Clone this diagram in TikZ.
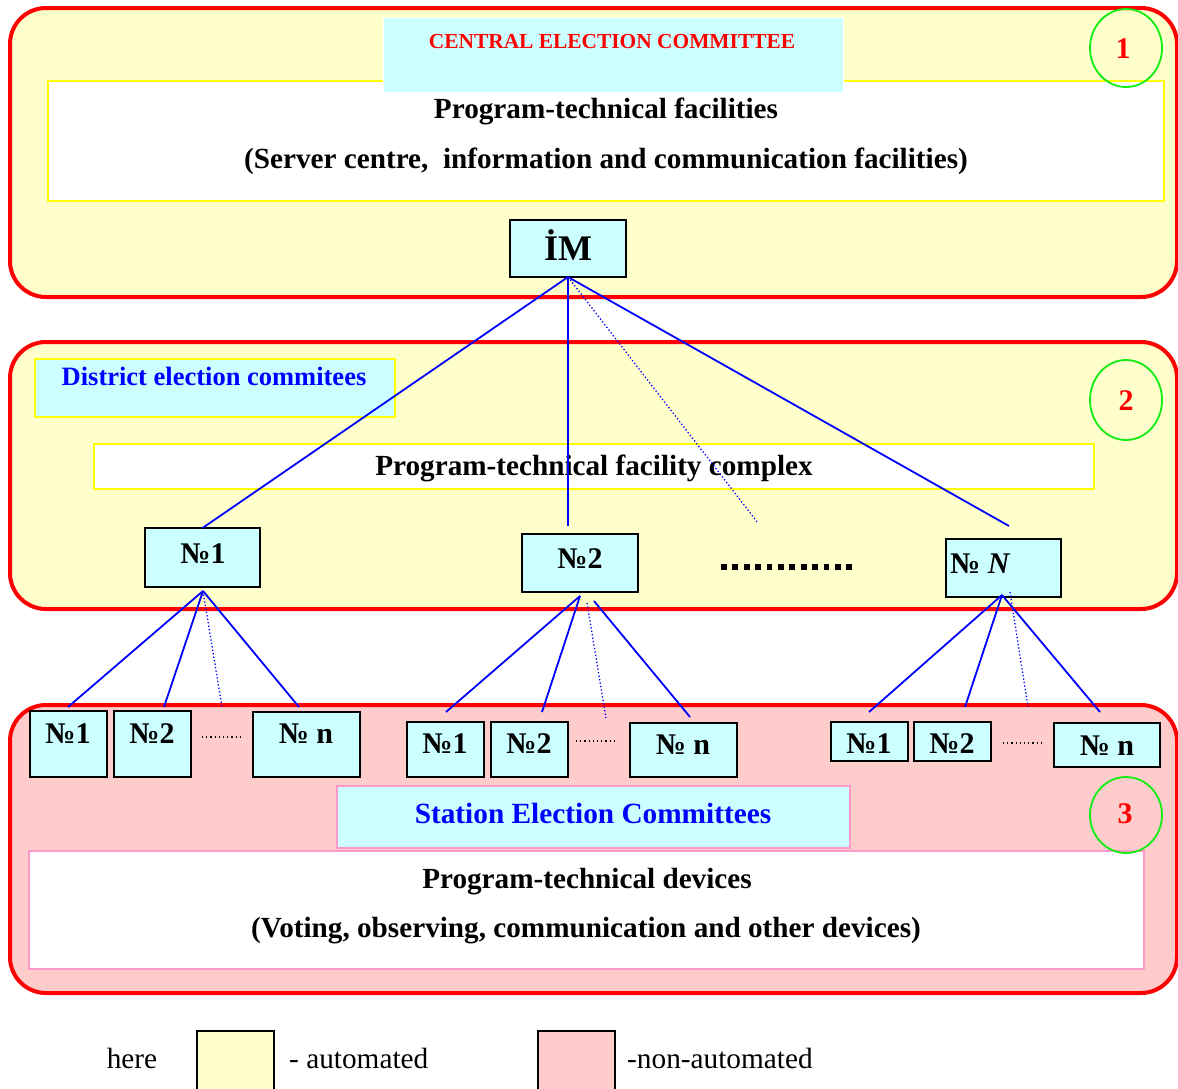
\documentclass[tikz,border=0pt]{standalone}
\usepackage{fontspec}
\setmainfont{Liberation Serif}
\usetikzlibrary{shapes.geometric}
\definecolor{lyellow}{HTML}{FFFFCC}
\definecolor{lcyan}{HTML}{CCFFFF}
\definecolor{lpink}{HTML}{FFCCCC}
\definecolor{pinkb}{HTML}{FF99CC}
\definecolor{ybord}{HTML}{FFFF00}
\definecolor{grn}{HTML}{11EE11}
\begin{document}
\begin{tikzpicture}[x=1pt,y=-1pt,
  tier/.style={draw=red,line width=4pt,rounded corners=36pt,inner sep=0pt,outer sep=0pt},
  box/.style={rectangle,inner sep=0pt,outer sep=0pt},
  numbox/.style={box,draw=black,line width=2pt,fill=lcyan},
  ring/.style={ellipse,draw=grn,line width=1.8pt,inner sep=0pt},
  lbl/.style={anchor=base,inner sep=0pt,font=\bfseries\fontsize{29.2}{32}\selectfont},
  numlbl/.style={anchor=base,inner sep=0pt,font=\bfseries\fontsize{30}{33}\selectfont},
  legtext/.style={inner sep=0pt,font=\fontsize{29.3}{32}\selectfont},
  conn/.style={draw=blue,line width=1.8pt},
  dconn/.style={draw=blue,line width=1.3pt,dash pattern=on 1.3pt off 2.2pt},
  smalldots/.style={line width=1.2pt,dash pattern=on 1.2pt off 3pt}]
\useasboundingbox (0,0) rectangle (1178,1088);

% tiers
\node[tier,fill=lyellow,minimum width=1167pt,minimum height=289pt] (t1) at (593.5,152.5) {};
\node[tier,fill=lyellow,minimum width=1167pt,minimum height=267pt] (t2) at (593.5,475.5) {};
\node[tier,fill=lpink,minimum width=1167pt,minimum height=288pt] (t3) at (593.5,849) {};

% tier 1
\node[box,draw=ybord,line width=2pt,fill=white,minimum width=1116pt,minimum height=120pt] (ptf) at (606,141) {};
\node[box,draw=white,line width=1pt,fill=lcyan,minimum width=460pt,minimum height=75pt] (cec) at (613,54.5) {};
\node[anchor=base,inner sep=0pt,text=red,font=\bfseries\fontsize{21.4}{24}\selectfont] (cect) at (612,48.3) {CENTRAL ELECTION COMMITTEE};
\node[lbl] (ptf1) at (606,118) {Program-technical facilities};
\node[lbl] (ptf2) at (606,168) {(Server centre,\ \ information and communication facilities)};
\node[ring,minimum width=72pt,minimum height=78pt] (c1) at (1126,48) {};
\node[numlbl,text=red] (c1t) at (1123,58) {1};
\node[numbox,minimum width=116pt,minimum height=57pt] (im) at (568,248.5) {};
\node[anchor=base,inner sep=0pt,font=\bfseries\fontsize{36}{40}\selectfont] (imt) at (568,260) {İM};

% tier 2
\node[box,draw=ybord,line width=2pt,fill=lcyan,minimum width=360pt,minimum height=58pt] (dec) at (215,388) {};
\node[anchor=base,inner sep=0pt,text=blue,font=\bfseries\fontsize{26.5}{29}\selectfont] (dect) at (214,385) {District election commitees};
\node[box,draw=ybord,line width=2pt,fill=white,minimum width=1000pt,minimum height=45pt] (ptc) at (594,466.5) {};
\node[lbl] (ptct) at (594,475.7) {Program-technical facility complex};
\node[ring,minimum width=72pt,minimum height=80pt] (c2) at (1126,400) {};
\node[numlbl,text=red] (c2t) at (1126,410) {2};
\node[numbox,minimum width=115pt,minimum height=59pt] (d1) at (202.5,557.5) {};
\node[numlbl] (d1t) at (203,563) {№1};
\node[numbox,minimum width=116pt,minimum height=58pt] (d2) at (580,563) {};
\node[numlbl] (d2t) at (580,568) {№2};
\node[numbox,minimum width=115pt,minimum height=58pt] (dN) at (1003.5,568) {};
\node[numlbl,anchor=base west] (dNt) at (950,573) {№ \textit{N}};
\coordinate (dotsA) at (721,567);
\coordinate (dotsB) at (855,567);
\draw[line width=6pt,dash pattern=on 5.7pt off 5.7pt] (dotsA) -- (dotsB);

% tier 3 station boxes
\node[numbox,minimum width=77pt,minimum height=66pt] (s11) at (68.5,744) {};
\node[numlbl] (s11t) at (68,743) {№1};
\node[numbox,minimum width=77pt,minimum height=66pt] (s12) at (152.5,744) {};
\node[numlbl] (s12t) at (152,743) {№2};
\node[numbox,minimum width=107pt,minimum height=65pt] (s1n) at (306.5,744.5) {};
\node[numlbl] (s1nt) at (306,743) {№ n};
\coordinate (q1a) at (202,737); \coordinate (q1b) at (241,737);
\draw[smalldots] (q1a) -- (q1b);

\node[numbox,minimum width=77pt,minimum height=55pt] (s21) at (445.5,749.5) {};
\node[numlbl] (s21t) at (445,753) {№1};
\node[numbox,minimum width=77pt,minimum height=55pt] (s22) at (529.5,749.5) {};
\node[numlbl] (s22t) at (529,753) {№2};
\node[numbox,minimum width=107pt,minimum height=54pt] (s2n) at (683.5,750) {};
\node[numlbl] (s2nt) at (683,754) {№ n};
\coordinate (q2a) at (576,741); \coordinate (q2b) at (615,741);
\draw[smalldots] (q2a) -- (q2b);

\node[numbox,minimum width=77pt,minimum height=39pt] (s31) at (869.5,741.5) {};
\node[numlbl] (s31t) at (869,753) {№1};
\node[numbox,minimum width=77pt,minimum height=39pt] (s32) at (952.5,741.5) {};
\node[numlbl] (s32t) at (952,753) {№2};
\node[numbox,minimum width=106pt,minimum height=44pt] (s3n) at (1107,745) {};
\node[numlbl] (s3nt) at (1107,755) {№ n};
\coordinate (q3a) at (1003,743); \coordinate (q3b) at (1042,743);
\draw[smalldots] (q3a) -- (q3b);

\node[box,draw=pinkb,line width=2pt,fill=lcyan,minimum width=513pt,minimum height=62pt] (sec) at (593.5,817) {};
\node[anchor=base,inner sep=0pt,text=blue,font=\bfseries\fontsize{29.3}{32}\selectfont] (sect) at (593,823) {Station Election Committees};
\node[box,draw=pinkb,line width=2pt,fill=white,minimum width=1115pt,minimum height=118pt] (ptd) at (586.5,910) {};
\node[lbl] (ptd1) at (587,888) {Program-technical devices};
\node[lbl] (ptd2) at (586,937) {(Voting, observing, communication and other devices)};
\node[ring,minimum width=72pt,minimum height=76pt] (c3) at (1126,815) {};
\node[numlbl,text=red] (c3t) at (1125,823) {3};

% connectors: central -> district
\coordinate (e2) at (568,526);
\coordinate (e3) at (758,523);
\coordinate (eN) at (1009,526);
\draw[conn] (im.south) -- (d1.north);
\draw[conn] (im.south) -- (e2);
\draw[dconn] (im.south) -- (e3);
\draw[conn] (im.south) -- (eN);

% district 1 -> stations
\coordinate (o1) at (203,591);
\coordinate (f11) at (68,707);
\coordinate (f12) at (164,707);
\coordinate (f13) at (222,707);
\coordinate (f14) at (299,707);
\draw[conn] (o1) -- (f11);
\draw[conn] (o1) -- (f12);
\draw[dconn] (o1) -- (f13);
\draw[conn] (o1) -- (f14);

% district 2 -> stations
\coordinate (o2) at (580,596);
\coordinate (f21) at (446,712);
\coordinate (f22) at (542,712);
\coordinate (g23) at (587,603);
\coordinate (f23) at (606,718);
\coordinate (g24) at (594,601);
\coordinate (f24) at (690,717);
\draw[conn] (o2) -- (f21);
\draw[conn] (o2) -- (f22);
\draw[dconn] (g23) -- (f23);
\draw[conn] (g24) -- (f24);

% district N -> stations
\coordinate (o3) at (1002,595);
\coordinate (f31) at (869,712);
\coordinate (f32) at (965,707);
\coordinate (g33) at (1010,592);
\coordinate (f33) at (1028,707);
\coordinate (f34) at (1100,712);
\draw[conn] (o3) -- (f31);
\draw[conn] (o3) -- (f32);
\draw[dconn] (g33) -- (f33);
\draw[conn] (o3) -- (f34);

% legend
\node[legtext,anchor=base] (here) at (132,1068) {here};
\node[box,draw=black,line width=2pt,fill=lyellow,minimum width=77pt,minimum height=80pt,anchor=north west] (lg1) at (197,1031) {};
\node[legtext,anchor=base west] (lg1t) at (289,1068) {- automated};
\node[box,draw=black,line width=2pt,fill=lpink,minimum width=77pt,minimum height=80pt,anchor=north west] (lg2) at (538,1031) {};
\node[legtext,anchor=base west] (lg2t) at (627,1068) {-non-automated};
\end{tikzpicture}
\end{document}
